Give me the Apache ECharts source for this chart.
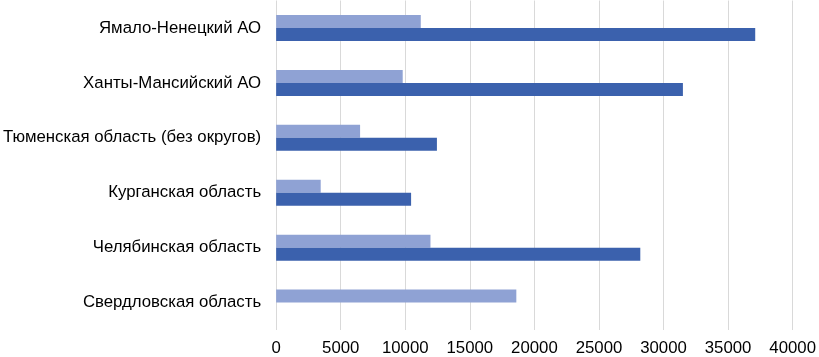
<!DOCTYPE html>
<html lang="ru">
	<head>
		<meta charset="utf-8">
		<title>Bar chart</title>
	</head>
	<style type="text/css">
		* {
			margin: 0;
			padding: 0;
		}

		#chart-container {
			position: relative;
			width: 819px;
			height: 357px;
			overflow: hidden;
			background: #fff;
		}
	</style>
	<body>
		<div id="chart-container"></div>
		<script src="https://fastly.jsdelivr.net/npm/echarts@6.0.0/dist/echarts.min.js"></script>
	</body>
	<script type="text/javascript">
		// категории снизу вверх
		var regions = [
			"Свердловская область",
			"Челябинская область",
			"Курганская область",
			"Тюменская область (без округов)",
			"Ханты-Мансийский АО",
			"Ямало-Ненецкий АО",
		];
		var lightValues = [18600, 11950, 3450, 6500, 9800, 11200];
		var darkValues = [null, 28200, 10450, 12450, 31500, 37100];
		var xTicks = [0, 40000, 5000]; // min, max, interval

		var dom = document.getElementById('chart-container');
		var myChart = echarts.init(dom, null, {
			renderer: 'canvas'
		});

		var font = "Liberation Sans, Arial, sans-serif";

		var option = {
			animation: false,
			grid: {
				left: 273,
				right: 25,
				top: 0.5,
				height: 331,
				containLabel: false,
			},
			xAxis: {
				type: "value",
				min: xTicks[0],
				max: xTicks[1],
				interval: xTicks[2],
				axisLine: { show: false },
				axisTick: { show: false },
				axisLabel: {
					color: "#000",
					fontSize: 16.8,
					fontFamily: font,
					margin: 10,
					formatter: function(v) {
						return String(v);
					},
				},
				splitLine: {
					lineStyle: { color: "#d9d9d9", width: 1 },
				},
			},
			yAxis: {
				type: "category",
				data: regions,
				axisLine: { show: false },
				axisTick: { show: false },
				axisLabel: {
					color: "#000",
					fontSize: 16.8,
					fontFamily: font,
					margin: 15,
				},
			},
			series: [{
					name: "Ряд 2",
					type: "bar",
					barWidth: 13,
					barGap: "0%",
					itemStyle: { color: "#8fa2d4" },
					data: lightValues,
				},
				{
					name: "Ряд 1",
					type: "bar",
					barWidth: 13,
					barGap: "0%",
					itemStyle: { color: "#3b61ad" },
					data: darkValues,
				},
			],
		};

		myChart.setOption(option);
		window.addEventListener('resize', myChart.resize);
	</script>
</html>
